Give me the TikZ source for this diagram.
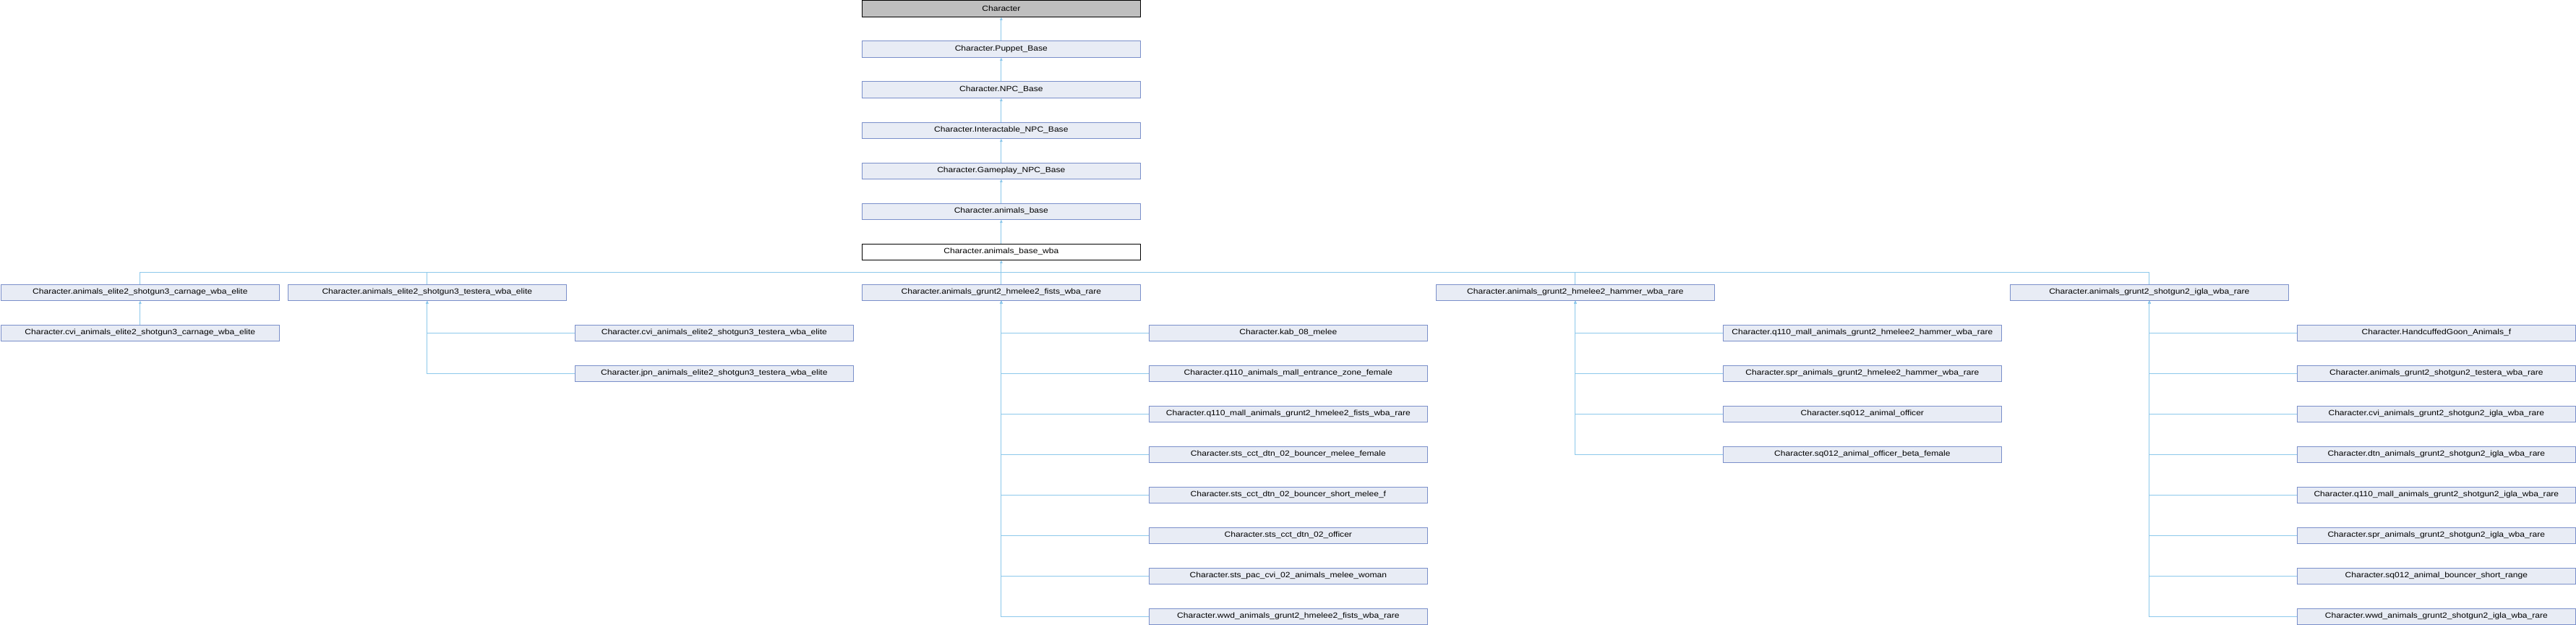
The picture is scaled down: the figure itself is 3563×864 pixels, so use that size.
\documentclass[tikz,border=0pt]{standalone}
\usepackage{fontspec}
\setmainfont{Liberation Sans}
\newfontfamily\dfont[FakeStretch=1.15]{Liberation Sans}
\usetikzlibrary{arrows.meta}
\definecolor{boxfill}{RGB}{232,236,245}
\definecolor{boxline}{RGB}{122,143,202}
\definecolor{edgecol}{RGB}{140,200,235}
\definecolor{rootfill}{RGB}{191,191,191}
\tikzset{
  cls/.style={draw=boxline, fill=boxfill, line width=1pt, minimum width=385.7pt, minimum height=22.3pt, inner sep=0pt, anchor=north west, font=\dfont\fontsize{10.5}{12}\selectfont},
  rootcls/.style={cls, draw=black, fill=rootfill},
  curcls/.style={cls, draw=black, fill=white},
  edge/.style={draw=edgecol, line width=0.8pt},
  inh/.style={edge, -{Triangle[length=4pt,width=3.5pt]}}
}
\begin{document}
\begin{tikzpicture}[x=1pt,y=-1pt]
\useasboundingbox[fill=white] (0,0) rectangle (3563,864);
% chain
\node[rootcls] (root) at (1191.5,0.5) {Character};
\node[cls] (puppet) at (1191.5,56.5) {Character.Puppet\_Base};
\node[cls] (npc) at (1191.5,112.5) {Character.NPC\_Base};
\node[cls] (inter) at (1191.5,168.5) {Character.Interactable\_NPC\_Base};
\node[cls] (game) at (1191.5,224.5) {Character.Gameplay\_NPC\_Base};
\node[cls] (abase) at (1191.5,280.5) {Character.animals\_base};
\node[curcls] (wba) at (1191.5,336.5) {Character.animals\_base\_wba};
\draw[inh] (puppet.north) -- (root.south);
\draw[inh] (npc.north) -- (puppet.south);
\draw[inh] (inter.north) -- (npc.south);
\draw[inh] (game.north) -- (inter.south);
\draw[inh] (abase.north) -- (game.south);
\draw[inh] (wba.north) -- (abase.south);
% children of wba
\node[cls] (carn) at (0.5,392.5) {Character.animals\_elite2\_shotgun3\_carnage\_wba\_elite};
\node[cls] (test) at (397.5,392.5) {Character.animals\_elite2\_shotgun3\_testera\_wba\_elite};
\node[cls] (fists) at (1191.5,392.5) {Character.animals\_grunt2\_hmelee2\_fists\_wba\_rare};
\node[cls] (hammer) at (1985.5,392.5) {Character.animals\_grunt2\_hmelee2\_hammer\_wba\_rare};
\node[cls] (igla) at (2779.5,392.5) {Character.animals\_grunt2\_shotgun2\_igla\_wba\_rare};
\coordinate (bus) at (1384.3,376);
\draw[edge] (carn.north) |- (bus);
\draw[edge] (test.north) |- (bus);
\draw[edge] (hammer.north) |- (bus);
\draw[edge] (igla.north) |- (bus);
\draw[inh] (fists.north) -- (wba.south);
% carnage
\node[cls] (cvicarn) at (0.5,448.5) {Character.cvi\_animals\_elite2\_shotgun3\_carnage\_wba\_elite};
\draw[inh] (cvicarn.north) -- (carn.south);
% testera
\node[cls] (cvitest) at (794.5,448.5) {Character.cvi\_animals\_elite2\_shotgun3\_testera\_wba\_elite};
\node[cls] (jpntest) at (794.5,504.5) {Character.jpn\_animals\_elite2\_shotgun3\_testera\_wba\_elite};
\draw[inh] (jpntest.west) -| (test.south);
\draw[inh] (cvitest.west) -| (test.south);
% fists
\node[cls] (f1) at (1588.5,448.5) {Character.kab\_08\_melee};
\node[cls] (f2) at (1588.5,504.5) {Character.q110\_animals\_mall\_entrance\_zone\_female};
\node[cls] (f3) at (1588.5,560.5) {Character.q110\_mall\_animals\_grunt2\_hmelee2\_fists\_wba\_rare};
\node[cls] (f4) at (1588.5,616.5) {Character.sts\_cct\_dtn\_02\_bouncer\_melee\_female};
\node[cls] (f5) at (1588.5,672.5) {Character.sts\_cct\_dtn\_02\_bouncer\_short\_melee\_f};
\node[cls] (f6) at (1588.5,728.5) {Character.sts\_cct\_dtn\_02\_officer};
\node[cls] (f7) at (1588.5,784.5) {Character.sts\_pac\_cvi\_02\_animals\_melee\_woman};
\node[cls] (f8) at (1588.5,840.5) {Character.wwd\_animals\_grunt2\_hmelee2\_fists\_wba\_rare};
\foreach \n in {f8,f7,f6,f5,f4,f3,f2,f1} \draw[inh] (\n.west) -| (fists.south);
% hammer
\node[cls] (h1) at (2382.5,448.5) {Character.q110\_mall\_animals\_grunt2\_hmelee2\_hammer\_wba\_rare};
\node[cls] (h2) at (2382.5,504.5) {Character.spr\_animals\_grunt2\_hmelee2\_hammer\_wba\_rare};
\node[cls] (h3) at (2382.5,560.5) {Character.sq012\_animal\_officer};
\node[cls] (h4) at (2382.5,616.5) {Character.sq012\_animal\_officer\_beta\_female};
\foreach \n in {h4,h3,h2,h1} \draw[inh] (\n.west) -| (hammer.south);
% igla
\node[cls] (g1) at (3176.5,448.5) {Character.HandcuffedGoon\_Animals\_f};
\node[cls] (g2) at (3176.5,504.5) {Character.animals\_grunt2\_shotgun2\_testera\_wba\_rare};
\node[cls] (g3) at (3176.5,560.5) {Character.cvi\_animals\_grunt2\_shotgun2\_igla\_wba\_rare};
\node[cls] (g4) at (3176.5,616.5) {Character.dtn\_animals\_grunt2\_shotgun2\_igla\_wba\_rare};
\node[cls] (g5) at (3176.5,672.5) {Character.q110\_mall\_animals\_grunt2\_shotgun2\_igla\_wba\_rare};
\node[cls] (g6) at (3176.5,728.5) {Character.spr\_animals\_grunt2\_shotgun2\_igla\_wba\_rare};
\node[cls] (g7) at (3176.5,784.5) {Character.sq012\_animal\_bouncer\_short\_range};
\node[cls] (g8) at (3176.5,840.5) {Character.wwd\_animals\_grunt2\_shotgun2\_igla\_wba\_rare};
\foreach \n in {g8,g7,g6,g5,g4,g3,g2,g1} \draw[inh] (\n.west) -| (igla.south);
\end{tikzpicture}
\end{document}
